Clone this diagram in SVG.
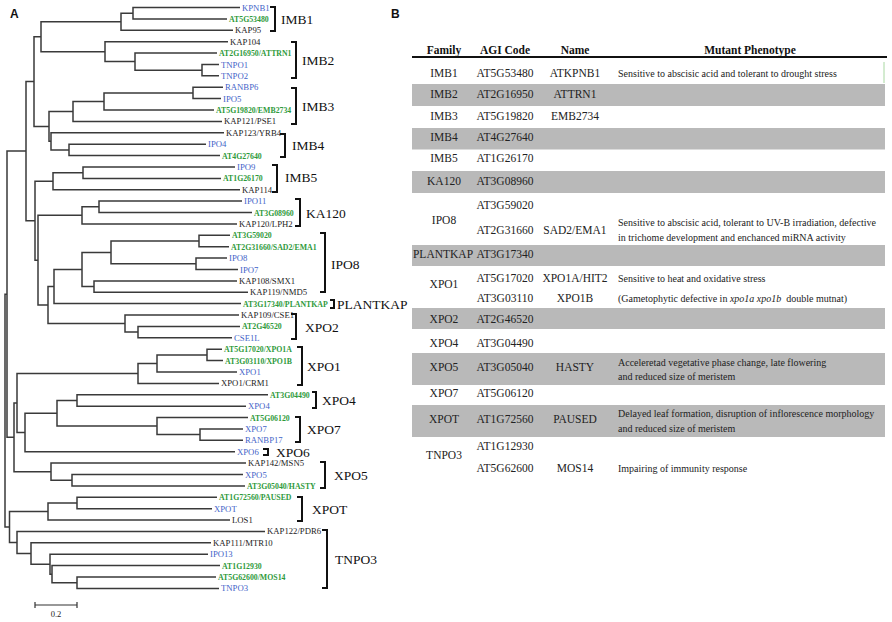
<svg xmlns="http://www.w3.org/2000/svg" width="892" height="622" viewBox="0 0 892 622">
<style>
.br{fill:none;stroke:#3a3a3a;stroke-width:1.5;stroke-linejoin:miter}
.bk{fill:none;stroke:#111;stroke-width:2}
.lf{font-family:"Liberation Serif","Times New Roman",serif;font-size:8.7px;fill:#222}
.b{fill:#3f63c8}
.g{fill:#2f9a3c;font-weight:bold;font-size:7.8px}
.cl{font-family:"Liberation Serif","Times New Roman",serif;font-size:13.5px;fill:#111}
.pl{font-family:"Liberation Sans",Arial,sans-serif;font-size:12px;font-weight:bold;fill:#111}
.th{font-family:"Liberation Serif","Times New Roman",serif;font-size:11.5px;font-weight:bold;fill:#111;text-anchor:middle}
.td{font-family:"Liberation Serif","Times New Roman",serif;font-size:11.5px;fill:#222;text-anchor:middle}
.ph{font-family:"Liberation Serif","Times New Roman",serif;font-size:10px;fill:#222}
.gr{fill:#b9b9b9}
</style>
<rect width="892" height="622" fill="#fff"/>
<text class="pl" x="10" y="18">A</text>
<text class="pl" x="391" y="18">B</text>
<g id="connectors">
<path class="br" d="M240 7.5H133V18.9H227"/>
<path class="br" d="M133 13.2H121V30.3H233"/>
<path class="br" d="M219 64.5H202V75.8H219"/>
<path class="br" d="M217 53.1H135V70.15H202"/>
<path class="br" d="M228 41.7H105V61.6H135"/>
<path class="br" d="M121 21.75H41V51.65H105"/>
<path class="br" d="M223 87.2H193V98.6H221"/>
<path class="br" d="M193 92.9H104V110H214"/>
<path class="br" d="M104 101.45H73V121.4H222"/>
<path class="br" d="M206 144.2H69V155.6H220"/>
<path class="br" d="M224 132.8H51V149.9H69"/>
<path class="br" d="M73 111.4H49V141.35H51"/>
<path class="br" d="M41 36.7H34V126.4H49"/>
<path class="br" d="M235 167H83V178.4H221"/>
<path class="br" d="M83 172.7H53V189.7H240"/>
<path class="br" d="M242 201.1H99V212.5H252"/>
<path class="br" d="M99 206.8H82V223.9H237"/>
<path class="br" d="M230 235.3H199V246.7H229"/>
<path class="br" d="M227 258.1H196V269.5H238"/>
<path class="br" d="M199 241H111V263.8H196"/>
<path class="br" d="M237 280.9H94V292.3H248"/>
<path class="br" d="M111 252.4H82V286.6H94"/>
<path class="br" d="M82 269.5H54V303.6H241"/>
<path class="br" d="M240 326.4H138V337.8H232"/>
<path class="br" d="M239 315H125V332.1H138"/>
<path class="br" d="M54 286.55H48V323.55H125"/>
<path class="br" d="M82 215.35H38V305.05H48"/>
<path class="br" d="M53 181.2H35V260.2H38"/>
<path class="br" d="M34 81.55H26V220.7H35"/>
<path class="br" d="M222 349.2H207V360.6H223"/>
<path class="br" d="M207 354.9H157V372H237"/>
<path class="br" d="M157 363.45H138V383.4H219"/>
<path class="br" d="M268 394.8H77V406.2H246"/>
<path class="br" d="M243 428.9H200V440.3H243"/>
<path class="br" d="M248 417.5H157V434.6H200"/>
<path class="br" d="M77 400.5H57V426.05H157"/>
<path class="br" d="M57 413.3H25V451.7H235"/>
<path class="br" d="M138 373.4H17V432.5H25"/>
<path class="br" d="M243 474.5H72V485.9H245"/>
<path class="br" d="M246 463.1H51V480.2H72"/>
<path class="br" d="M17 402.95H14V471.65H51"/>
<path class="br" d="M26 151.1H7V437.3H14"/>
<path class="br" d="M217 497.3H77V508.7H212"/>
<path class="br" d="M77 503H48V520.1H230"/>
<path class="br" d="M216 577H77V588.4H219"/>
<path class="br" d="M220 565.6H52V582.7H77"/>
<path class="br" d="M208 554.2H50V574.15H52"/>
<path class="br" d="M211 542.8H31V564.2H50"/>
<path class="br" d="M265 531.4H17V553.5H31"/>
<path class="br" d="M48 511.55H9.5V542.45H17"/>
<path class="br" d="M7 294.2H5V527H9.5"/>
</g>
<g id="leaves" class="lf">
<text x="242" y="10.5" class="b">KPNB1</text>
<text x="229" y="21.9" class="g">AT5G53480</text>
<text x="235" y="33.3">KAP95</text>
<text x="230" y="44.7">KAP104</text>
<text x="219" y="56.1" class="g">AT2G16950/ATTRN1</text>
<text x="221" y="67.5" class="b">TNPO1</text>
<text x="221" y="78.8" class="b">TNPO2</text>
<text x="225" y="90.2" class="b">RANBP6</text>
<text x="223" y="101.6" class="b">IPO5</text>
<text x="216" y="113" class="g">AT5G19820/EMB2734</text>
<text x="224" y="124.4">KAP121/PSE1</text>
<text x="226" y="135.8">KAP123/YRB4</text>
<text x="208" y="147.2" class="b">IPO4</text>
<text x="222" y="158.6" class="g">AT4G27640</text>
<text x="237" y="170" class="b">IPO9</text>
<text x="223" y="181.4" class="g">AT1G26170</text>
<text x="242" y="192.7">KAP114</text>
<text x="244" y="204.1" class="b">IPO11</text>
<text x="254" y="215.5" class="g">AT3G08960</text>
<text x="239" y="226.9">KAP120/LPH2</text>
<text x="232" y="238.3" class="g">AT3G59020</text>
<text x="231" y="249.7" class="g">AT2G31660/SAD2/EMA1</text>
<text x="229" y="261.1" class="b">IPO8</text>
<text x="240" y="272.5" class="b">IPO7</text>
<text x="239" y="283.9">KAP108/SMX1</text>
<text x="250" y="295.3">KAP119/NMD5</text>
<text x="243" y="306.6" class="g">AT3G17340/PLANTKAP</text>
<text x="241" y="318">KAP109/CSE1</text>
<text x="242" y="329.4" class="g">AT2G46520</text>
<text x="234" y="340.8" class="b">CSE1L</text>
<text x="224" y="352.2" class="g">AT5G17020/XPO1A</text>
<text x="225" y="363.6" class="g">AT3G03110/XPO1B</text>
<text x="239" y="375" class="b">XPO1</text>
<text x="221" y="386.4">XPO1/CRM1</text>
<text x="270" y="397.8" class="g">AT3G04490</text>
<text x="248" y="409.2" class="b">XPO4</text>
<text x="250" y="420.5" class="g">AT5G06120</text>
<text x="245" y="431.9" class="b">XPO7</text>
<text x="245" y="443.3" class="b">RANBP17</text>
<text x="237" y="454.7" class="b">XPO6</text>
<text x="248" y="466.1">KAP142/MSN5</text>
<text x="245" y="477.5" class="b">XPO5</text>
<text x="247" y="488.9" class="g">AT3G05040/HASTY</text>
<text x="219" y="500.3" class="g">AT1G72560/PAUSED</text>
<text x="214" y="511.7" class="b">XPOT</text>
<text x="232" y="523.1">LOS1</text>
<text x="267" y="534.4">KAP122/PDR6</text>
<text x="213" y="545.8">KAP111/MTR10</text>
<text x="210" y="557.2" class="b">IPO13</text>
<text x="222" y="568.6" class="g">AT1G12930</text>
<text x="218" y="580" class="g">AT5G62600/MOS14</text>
<text x="221" y="591.4" class="b">TNPO3</text>
</g>
<g id="clades">
<g id="c-imb1"><path class="bk" d="M270 7H275V31H270"/><text class="cl" x="281" y="24">IMB1</text></g>
<g id="c-imb2"><path class="bk" d="M291 42H296V78H291"/><text class="cl" x="302" y="65">IMB2</text></g>
<g id="c-imb3"><path class="bk" d="M291 88H296V124H291"/><text class="cl" x="302" y="110.5">IMB3</text></g>
<g id="c-imb4"><path class="bk" d="M280 134H285V157H280"/><text class="cl" x="292" y="150">IMB4</text></g>
<g id="c-imb5"><path class="bk" d="M272 165H277V192H272"/><text class="cl" x="285" y="182">IMB5</text></g>
<g id="c-ka120"><path class="bk" d="M295 199H300V226H295"/><text class="cl" x="306" y="217.5">KA120</text></g>
<g id="c-ipo8"><path class="bk" d="M320 233H325V292H320"/><text class="cl" x="331" y="268.5">IPO8</text></g>
<g id="c-plantkap"><path class="bk" d="M330 300H334V308H330"/><text class="cl" x="337" y="308.5">PLANTKAP</text></g>
<g id="c-xpo2"><path class="bk" d="M291 314H296V339H291"/><text class="cl" x="305" y="331.5">XPO2</text></g>
<g id="c-xpo1"><path class="bk" d="M297 347H302V385H297"/><text class="cl" x="307" y="370.5">XPO1</text></g>
<g id="c-xpo4"><path class="bk" d="M312 392H316V408H312"/><text class="cl" x="322" y="404.5">XPO4</text></g>
<g id="c-xpo7"><path class="bk" d="M295 417H300V442H295"/><text class="cl" x="307" y="433.5">XPO7</text></g>
<g id="c-xpo6"><path class="bk" d="M263 449H268V455H263"/><text class="cl" x="276" y="456.5">XPO6</text></g>
<g id="c-xpo5"><path class="bk" d="M320 462H325V488H320"/><text class="cl" x="334" y="479.5">XPO5</text></g>
<g id="c-xpot"><path class="bk" d="M297 497H302V521H297"/><text class="cl" x="312" y="513.5">XPOT</text></g>
<g id="c-tnpo3"><path class="bk" d="M322 530H327V588H322"/><text class="cl" x="335" y="563.5">TNPO3</text></g>
</g>
<g id="scale">
<path d="M35 605H77M35 602V608M77 602V608" stroke="#333" stroke-width="1.2" fill="none"/>
<text x="56" y="617" text-anchor="middle" font-family="Liberation Serif, serif" font-size="8.5" fill="#222">0.2</text>
</g>
<g id="table">
<rect class="gr" x="412" y="84" width="473" height="22"/>
<rect class="gr" x="412" y="128" width="473" height="21.5"/>
<rect class="gr" x="412" y="171" width="473" height="22"/>
<rect class="gr" x="412" y="245" width="473" height="21"/>
<rect class="gr" x="412" y="308" width="473" height="21"/>
<rect class="gr" x="412" y="353" width="473" height="32"/>
<rect class="gr" x="412" y="405" width="473" height="32"/>
<path d="M884 62V83" stroke="#a9d8a2" stroke-width="1"/>
<path d="M412 57H887" stroke="#111" stroke-width="2"/>
<text class="th" x="444" y="54">Family</text>
<text class="th" x="505" y="54">AGI Code</text>
<text class="th" x="575" y="54">Name</text>
<text class="th" x="750" y="54">Mutant Phenotype</text>
<g class="td">
<text x="444" y="77">IMB1</text><text x="505" y="77">AT5G53480</text><text x="575" y="77">ATKPNB1</text>
<text x="444" y="98">IMB2</text><text x="505" y="98">AT2G16950</text><text x="575" y="98">ATTRN1</text>
<text x="444" y="120">IMB3</text><text x="505" y="120">AT5G19820</text><text x="575" y="120">EMB2734</text>
<text x="444" y="141">IMB4</text><text x="505" y="141">AT4G27640</text>
<text x="444" y="162">IMB5</text><text x="505" y="162">AT1G26170</text>
<text x="444" y="185">KA120</text><text x="505" y="185">AT3G08960</text>
<text x="505" y="209">AT3G59020</text>
<text x="444" y="224">IPO8</text><text x="505" y="234">AT2G31660</text><text x="575" y="234">SAD2/EMA1</text>
<text x="443" y="258">PLANTKAP</text><text x="505" y="258">AT3G17340</text>
<text x="505" y="282">AT5G17020</text><text x="575" y="282">XPO1A/HIT2</text>
<text x="444" y="288">XPO1</text>
<text x="505" y="302">AT3G03110</text><text x="575" y="302">XPO1B</text>
<text x="444" y="323">XPO2</text><text x="505" y="323">AT2G46520</text>
<text x="444" y="346.5">XPO4</text><text x="505" y="346.5">AT3G04490</text>
<text x="444" y="371">XPO5</text><text x="505" y="371">AT3G05040</text><text x="575" y="371">HASTY</text>
<text x="444" y="397">XPO7</text><text x="505" y="397">AT5G06120</text>
<text x="444" y="423">XPOT</text><text x="505" y="423">AT1G72560</text><text x="575" y="423">PAUSED</text>
<text x="505" y="450">AT1G12930</text>
<text x="444" y="459">TNPO3</text>
<text x="505" y="472">AT5G62600</text><text x="575" y="472">MOS14</text>
</g>
<g class="ph">
<text x="618" y="76.5">Sensitive to abscisic acid and tolerant to drought stress</text>
<text x="618" y="225.5">Sensitive to abscisic acid, tolerant to UV-B irradiation, defective</text>
<text x="618" y="240.5">in trichome development and enchanced miRNA activity</text>
<text x="618" y="281.5">Sensitive to heat and oxidative stress</text>
<text x="618" y="301.5" xml:space="preserve">(Gametophytic defective in <tspan font-style="italic">xpo1a xpo1b</tspan>  double mutnat)</text>
<text x="618" y="365.5">Acceleretad vegetative phase change, late flowering</text>
<text x="618" y="379.5">and reduced size of meristem</text>
<text x="618" y="416.5">Delayed leaf formation, disruption of inflorescence morphology</text>
<text x="618" y="431.5">and reduced size of meristem</text>
<text x="618" y="471.5">Impairing of immunity response</text>
</g>
</g>
</svg>
